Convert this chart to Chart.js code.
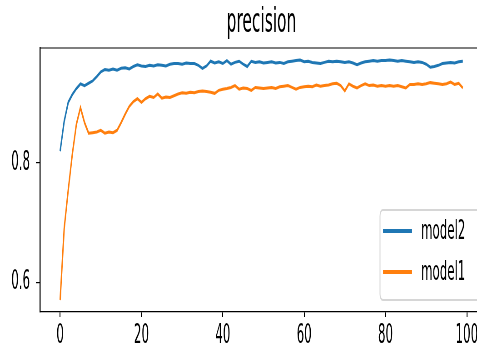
<!DOCTYPE html>
<html>
<head>
<meta charset="utf-8">
<script src="https://cdn.jsdelivr.net/npm/chart.js@4/dist/chart.umd.min.js"></script>
<style>
html, body { margin: 0; padding: 0; background: #fff; overflow: hidden; width: 477px; height: 359px; }
#wrap { transform: scaleX(0.4543); transform-origin: 0 0; width: 1066px; height: 359px; }
</style>
</head>
<body>
<div id="wrap"><canvas id="chart" width="1066" height="359"></canvas></div>
<script>
// precision per epoch
const model2 = [
  0.820, 0.870, 0.902, 0.915, 0.925, 0.933, 0.930, 0.934, 0.938, 0.945,
  0.953, 0.957, 0.956, 0.958, 0.956, 0.959, 0.960, 0.958, 0.962, 0.965,
  0.963, 0.962, 0.964, 0.963, 0.965, 0.964, 0.963, 0.966, 0.967, 0.967,
  0.966, 0.968, 0.967, 0.967, 0.964, 0.959, 0.963, 0.971, 0.968, 0.970,
  0.967, 0.972, 0.966, 0.969, 0.971, 0.966, 0.962, 0.971, 0.969, 0.970,
  0.968, 0.969, 0.970, 0.968, 0.969, 0.967, 0.970, 0.971, 0.972, 0.973,
  0.970, 0.971, 0.969, 0.968, 0.967, 0.969, 0.971, 0.970, 0.971, 0.970,
  0.969, 0.970, 0.968, 0.965, 0.968, 0.970, 0.971, 0.972, 0.971, 0.972,
  0.972, 0.973, 0.972, 0.971, 0.972, 0.971, 0.970, 0.969, 0.970, 0.969,
  0.966, 0.961, 0.962, 0.964, 0.967, 0.968, 0.969, 0.968, 0.970, 0.971
];
const model1 = [
  0.570, 0.690, 0.755, 0.815, 0.865, 0.893, 0.868, 0.850, 0.851, 0.852,
  0.855, 0.850, 0.852, 0.851, 0.855, 0.868, 0.882, 0.895, 0.903, 0.908,
  0.902, 0.908, 0.912, 0.910, 0.916, 0.909, 0.911, 0.910, 0.913, 0.916,
  0.918, 0.917, 0.919, 0.918, 0.920, 0.921, 0.920, 0.919, 0.917, 0.922,
  0.924, 0.925, 0.927, 0.930, 0.924, 0.926, 0.925, 0.922, 0.927, 0.926,
  0.925, 0.926, 0.927, 0.925, 0.928, 0.929, 0.930, 0.927, 0.924, 0.927,
  0.928, 0.929, 0.928, 0.931, 0.929, 0.930, 0.931, 0.933, 0.934, 0.930,
  0.921, 0.933, 0.929, 0.926, 0.930, 0.933, 0.930, 0.931, 0.929, 0.930,
  0.929, 0.930, 0.929, 0.930, 0.928, 0.926, 0.932, 0.932, 0.933, 0.932,
  0.933, 0.935, 0.934, 0.933, 0.932, 0.933, 0.936, 0.932, 0.934, 0.926
];
const xTicks = [0, 20, 40, 60, 80, 100];
const yTicks = [0.6, 0.8];

// the picture is squeezed sideways, so draw wide and squeeze with css
const SQUEEZE = 0.4543;
const px = v => v / SQUEEZE;

const epochs = model2.map((_, i) => i);
const lo = Math.min(...model1, ...model2);
const hi = Math.max(...model1, ...model2);
const yPad = (hi - lo) * 0.05;
const xPad = (epochs.length - 1) * 0.05;

const FONT = 'DejaVu Sans';

const topFrame = {
  id: 'topFrame',
  afterDraw(chart) {
    const { ctx, chartArea } = chart;
    ctx.save();
    ctx.strokeStyle = '#000';
    ctx.lineWidth = 1.2;
    ctx.beginPath();
    ctx.moveTo(chartArea.left, chartArea.top);
    ctx.lineTo(chartArea.right, chartArea.top);
    ctx.stroke();
    ctx.restore();
  }
};

const legendBox = {
  id: 'legendBox',
  afterDraw(chart) {
    const c = chart.ctx;
    const x0 = px(380), x1 = px(482), y0 = 210, y1 = 300, r = 6;
    c.save();
    c.fillStyle = 'rgba(255,255,255,0.85)';
    c.strokeStyle = '#d6d6d6';
    c.lineWidth = 2;
    c.beginPath();
    c.roundRect(x0, y0, x1 - x0, y1 - y0, r);
    c.fill();
    c.stroke();
    chart.data.datasets.forEach((ds, i) => {
      const y = 231 + i * 41;
      c.strokeStyle = ds.borderColor;
      c.lineWidth = 4;
      c.beginPath();
      c.moveTo(px(383), y);
      c.lineTo(px(412), y);
      c.stroke();
      c.fillStyle = '#000';
      c.font = `26px "${FONT}"`;
      c.textBaseline = 'middle';
      c.fillText(ds.label, px(421), y + 1);
    });
    c.restore();
  }
};

new Chart(document.getElementById('chart'), {
  type: 'line',
  data: {
    datasets: [
      {
        label: 'model2',
        data: epochs.map((e, i) => ({ x: e, y: model2[i] })),
        borderColor: '#1f77b4',
        borderWidth: 3,
        pointRadius: 0,
        tension: 0
      },
      {
        label: 'model1',
        data: epochs.map((e, i) => ({ x: e, y: model1[i] })),
        borderColor: '#ff7f0e',
        borderWidth: 3,
        pointRadius: 0,
        tension: 0
      }
    ]
  },
  options: {
    responsive: false,
    animation: false,
    layout: { padding: { left: 0, right: 3, top: 0, bottom: 0 } },
    plugins: {
      legend: { display: false },
      tooltip: { enabled: false },
      title: {
        display: true,
        text: 'precision',
        fullSize: false,
        color: '#000',
        font: { family: FONT, size: 34, weight: 'normal', lineHeight: 1 },
        padding: { top: 6, bottom: 8 }
      }
    },
    scales: {
      x: {
        type: 'linear',
        min: -xPad,
        max: epochs.length - 1 + xPad,
        afterBuildTicks: s => { s.ticks = xTicks.map(v => ({ value: v })); },
        afterFit: s => { s.height = 47; },
        grid: { drawOnChartArea: false, tickLength: 5, color: '#000', lineWidth: 2 },
        border: { color: '#000', width: 1.2 },
        ticks: { color: '#000', font: { family: FONT, size: 26 }, padding: 4, maxRotation: 0, autoSkip: false }
      },
      y: {
        min: lo - yPad,
        max: hi + yPad,
        afterBuildTicks: s => { s.ticks = yTicks.map(v => ({ value: v })); },
        afterFit: s => { s.width = 88; },
        grid: { drawOnChartArea: false, tickLength: 9, color: '#000', lineWidth: 1.2 },
        border: { color: '#000', width: 2.4 },
        ticks: { color: '#000', font: { family: FONT, size: 26 }, padding: 13, callback: v => v.toFixed(1) }
      }
    }
  },
  plugins: [topFrame, legendBox]
});
</script>
</body>
</html>
